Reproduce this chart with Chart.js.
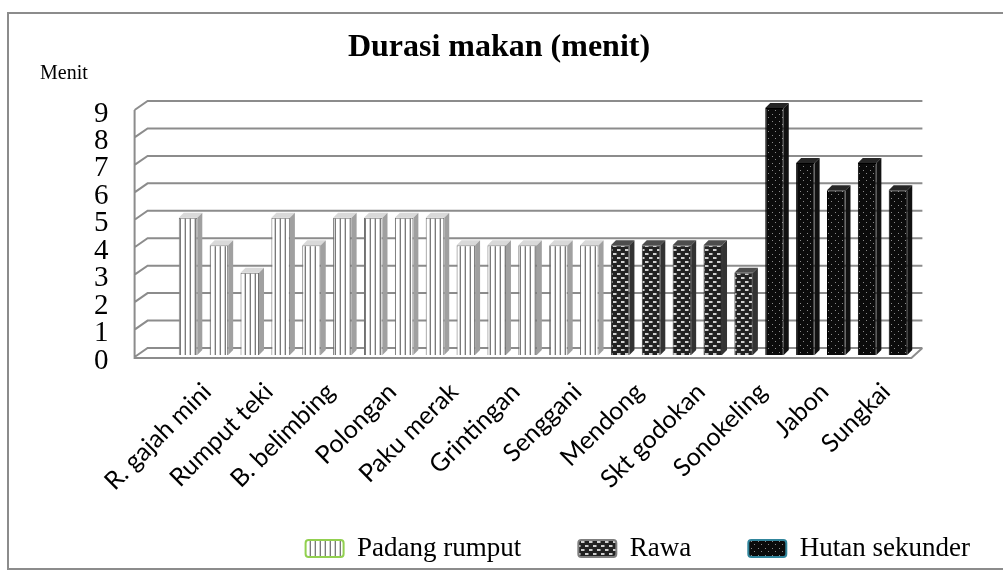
<!DOCTYPE html>
<html>
<head>
<meta charset="utf-8">
<script src="https://cdn.jsdelivr.net/npm/chart.js@4.4.1/dist/chart.umd.min.js"></script>
<style>
  body { margin: 0; background: #fff; }
  #wrap { position: relative; width: 1003px; height: 572px; overflow: hidden; }
  #frame { position: absolute; left: 7px; top: 12px; width: 1010px; height: 558px; border: 2px solid #8c8c8c; box-sizing: border-box; pointer-events: none; }
</style>
</head>
<body>
<div id="wrap">
  <canvas id="myChart" width="1003" height="572"></canvas>
  <div id="frame"></div>
</div>
<script>
// only every other category name is visible on the original axis
const categories = [
  "R. gajah mini", "", "Rumput teki", "", "B. belimbing", "", "Polongan", "",
  "Paku merak", "", "Grintingan", "", "Senggani", "", "Mendong", "",
  "Skt godokan", "", "Sonokeling", "", "Jabon", "", "Sungkai", ""
];
const padangRumput = [5, 4, 3, 5, 4, 5, 5, 5, 5, 4, 4, 4, 4, 4];
const rawa = [4, 4, 4, 4, 3];
const hutanSekunder = [9, 7, 6, 7, 6];
const seriesNames = ["Padang rumput", "Rawa", "Hutan sekunder"];
const yMin = 0, yMax = 9, yStep = 1;

const blank = n => Array(n).fill(null);
const dataPadang = padangRumput.concat(blank(rawa.length + hutanSekunder.length));
const dataRawa = blank(padangRumput.length).concat(rawa, blank(hutanSekunder.length));
const dataHutan = blank(padangRumput.length + rawa.length).concat(hutanSekunder);

const ctx = document.getElementById("myChart").getContext("2d");

function makePattern(w, h, bg, draw) {
  const c = document.createElement("canvas");
  c.width = w; c.height = h;
  const g = c.getContext("2d");
  g.fillStyle = bg;
  g.fillRect(0, 0, w, h);
  draw(g);
  return ctx.createPattern(c, "repeat");
}

const stripes = makePattern(5, 4, "#ffffff", g => {
  g.fillStyle = "#7a7a7a"; g.fillRect(0, 0, 1, 4);
  g.fillStyle = "#cfcfcf"; g.fillRect(4, 0, 1, 4);
});
const checks = makePattern(8, 8, "#222222", g => {
  g.fillStyle = "#cfcfcf"; g.fillRect(1, 1, 3, 2); g.fillRect(5, 5, 3, 2);
  g.fillStyle = "#7a7a7a"; g.fillRect(4, 1, 1, 2); g.fillRect(0, 5, 1, 2);
});
const dots = makePattern(7, 7, "#0b0b0b", g => {
  g.fillStyle = "#8a8a8a"; g.fillRect(2, 2, 1, 1); g.fillRect(5, 5, 1, 1);
});

const legendBorders = ["#92d050", "#7f7f7f", "#31859c"];
const faceColors = [["#d9d9d9", "#a0a0a0"], ["#4d4d4d", "#333333"], ["#262626", "#111111"]];
const depth = 5;
const legendShiftX = 49;
const titleShiftX = -10;

// top and side faces so the bars look like the 3D original
const barDepth = {
  id: "barDepth",
  afterDatasetsDraw(chart) {
    const c = chart.ctx;
    chart.data.datasets.forEach((ds, i) => {
      chart.getDatasetMeta(i).data.forEach((bar, j) => {
        if (ds.data[j] == null) return;
        const { x, y, base, width } = bar.getProps(["x", "y", "base", "width"], true);
        const l = x - width / 2, r = x + width / 2;
        c.save();
        c.fillStyle = faceColors[i][0];
        c.beginPath();
        c.moveTo(l, y); c.lineTo(l + depth, y - depth); c.lineTo(r + depth, y - depth); c.lineTo(r, y);
        c.closePath(); c.fill();
        c.fillStyle = faceColors[i][1];
        c.beginPath();
        c.moveTo(r, y); c.lineTo(r + depth, y - depth); c.lineTo(r + depth, base - depth); c.lineTo(r, base);
        c.closePath(); c.fill();
        c.restore();
      });
    });
  }
};

// back wall grid + left wall + floor
const wall = {
  id: "wall",
  beforeDatasetsDraw(chart) {
    const { ctx: c, chartArea: a, scales: { y } } = chart;
    const x0 = a.left - 38, x1 = a.left - 25, x2 = a.right + 9;
    c.save();
    c.strokeStyle = "#8c8c8c";
    c.lineWidth = 2;
    c.beginPath();
    y.ticks.forEach(t => {
      const py = y.getPixelForValue(t.value);
      c.moveTo(x0, py + 2); c.lineTo(x1, py - 7); c.lineTo(x2, py - 7);
    });
    const top = y.getPixelForValue(y.max), bottom = y.getPixelForValue(0);
    c.moveTo(x0, top + 2); c.lineTo(x0, bottom + 3);
    c.lineTo(a.right - 2, bottom + 3); c.lineTo(x2, bottom - 7);
    c.stroke();
    c.restore();
  }
};

// nudge boxes: legend further right, title a bit left, and let the
// rotated x labels run into the legend band instead of being clipped
const layoutTweaks = {
  id: "layoutTweaks",
  afterLayout(chart) {
    chart.legend.left += legendShiftX;
    chart.legend.right += legendShiftX;
    chart.titleBlock.left += titleShiftX;
    chart.titleBlock.right += titleShiftX;
    chart.scales.x.bottom = chart.height;
  }
};

const myChart = new Chart(ctx, {
  type: "bar",
  data: {
    labels: categories,
    datasets: [
      { label: seriesNames[0], data: dataPadang, backgroundColor: stripes, borderColor: "#6e6e6e", borderWidth: 1 },
      { label: seriesNames[1], data: dataRawa, backgroundColor: checks, borderColor: "#333333", borderWidth: 1 },
      { label: seriesNames[2], data: dataHutan, backgroundColor: dots, borderColor: "#000000", borderWidth: 1 },
    ],
  },
  options: {
    responsive: false,
    animation: false,
    datasets: { bar: { barPercentage: 0.6, categoryPercentage: 1 } },
    layout: { padding: { left: 40, right: 25, top: 0, bottom: 0 } },
    scales: {
      x: {
        stacked: true,
        grid: { display: false },
        border: { display: false },
        ticks: {
          autoSkip: false,
          maxRotation: 45,
          minRotation: 45,
          padding: 14,
          labelOffset: 19,
          color: "#000",
          font: { family: "Lato", size: 25 },
        },
        afterFit: s => { s.height = 123; },
      },
      y: {
        stacked: true,
        min: yMin,
        max: yMax,
        grid: { display: false, drawTicks: false },
        border: { display: false },
        ticks: {
          stepSize: yStep,
          autoSkip: false,
          padding: 64,
          labelOffset: 6,
          color: "#000",
          font: { family: "Liberation Serif", size: 29 },
        },
        afterFit: s => { s.width = 132.6; },
      },
      y2: {
        position: "right",
        grid: { display: false, drawTicks: false },
        border: { display: false },
        ticks: { display: false },
        afterFit: s => { s.width = 64.6; },
      },
    },
    plugins: {
      title: {
        display: true,
        text: "Durasi makan (menit)",
        color: "#000",
        font: { family: "Liberation Serif", size: 32, weight: "bold", lineHeight: 1 },
        padding: { top: 32, bottom: 0 },
      },
      subtitle: {
        display: true,
        text: "Menit",
        align: "start",
        color: "#000",
        font: { family: "Liberation Serif", size: 20, lineHeight: 1 },
        padding: { top: 0, bottom: 24 },
      },
      legend: {
        position: "bottom",
        align: "end",
        labels: {
          color: "#000",
          font: { family: "Liberation Serif", size: 27 },
          boxWidth: 38,
          boxHeight: 17,
          padding: 57,
          useBorderRadius: true,
          borderRadius: 3,
          generateLabels(chart) {
            const items = Chart.defaults.plugins.legend.labels.generateLabels(chart);
            items.forEach((it, i) => { it.strokeStyle = legendBorders[i]; it.lineWidth = 2; });
            return items;
          },
        },
      },
      tooltip: { enabled: false },
    },
  },
  plugins: [wall, barDepth, layoutTweaks],
});
</script>
</body>
</html>
